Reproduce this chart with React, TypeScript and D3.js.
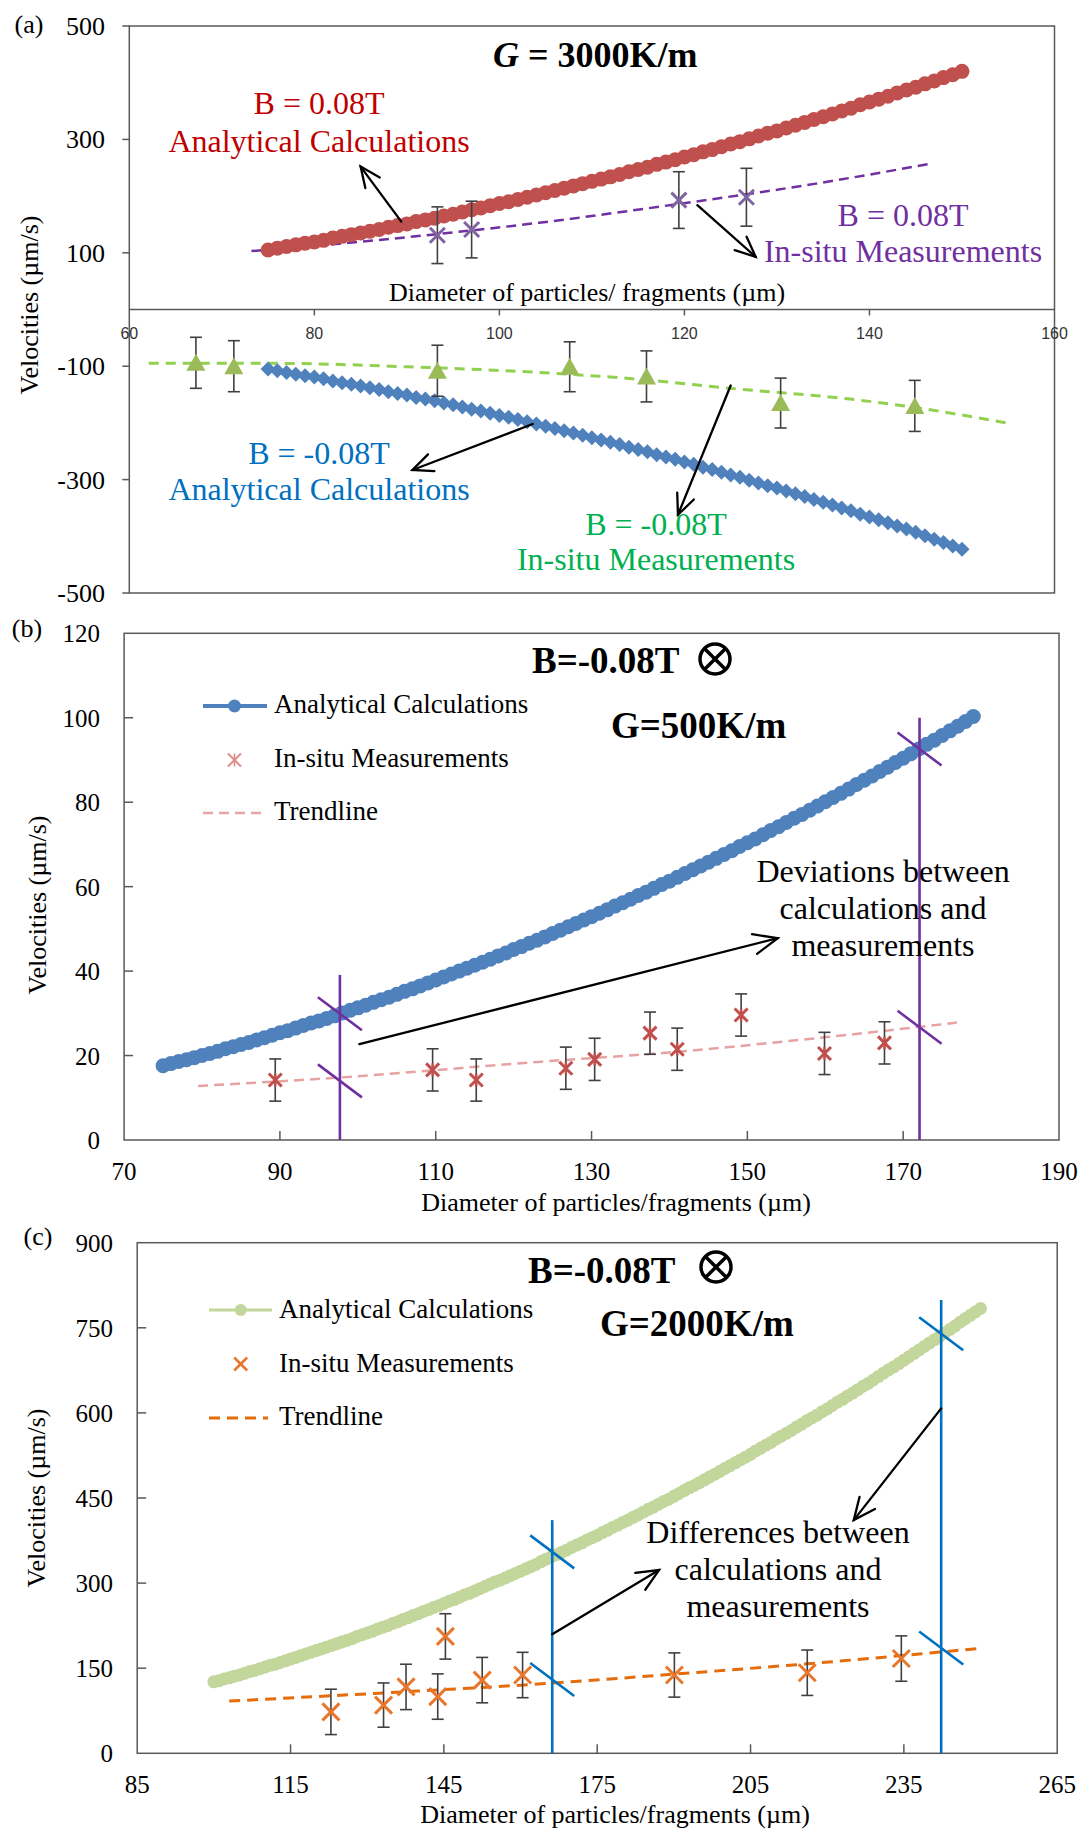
import React from 'react';
import * as d3 from 'd3';

const SERIF = '"Liberation Serif", "Times New Roman", Times, serif';
const SANS = '"Liberation Sans", Arial, sans-serif';

// ---------------- Panel (a) data ----------------
const aTicksY = [500, 300, 100, -100, -300, -500];
const aTicksX = [60, 80, 100, 120, 140, 160];
const aCalcDiam = d3.range(75, 151);
const aCalcPos = [
  105, 108, 111, 114, 117, 119, 122, 126, 129, 132,
  135, 138, 141, 145, 148, 151, 155, 158, 161, 165,
  168, 172, 176, 179, 183, 187, 190, 194, 198, 202,
  206, 210, 214, 218, 222, 226, 230, 234, 238, 243,
  247, 251, 256, 260, 264, 269, 273, 278, 282, 287,
  292, 296, 301, 306, 311, 315, 320, 325, 330, 335,
  340, 345, 350, 355, 361, 366, 371, 376, 382, 387,
  392, 398, 403, 409, 414, 420,
];
const aCalcNeg = [
  -105, -108, -111, -114, -117, -119, -122, -126, -129, -132,
  -135, -138, -141, -145, -148, -151, -155, -158, -161, -165,
  -168, -172, -176, -179, -183, -187, -190, -194, -198, -202,
  -206, -210, -214, -218, -222, -226, -230, -234, -238, -243,
  -247, -251, -256, -260, -264, -269, -273, -278, -282, -287,
  -292, -296, -301, -306, -311, -315, -320, -325, -330, -335,
  -340, -345, -350, -355, -361, -366, -371, -376, -382, -387,
  -393, -399, -405, -411, -417, -423,
];
const aMeasPosDiam = [93.3, 97.0, 119.4, 126.7];
const aMeasPosVel = [131, 141, 193, 198];
const aMeasPosErr = [50, 50, 50, 51];
const aTrendPosDiam = [73.2, 83.3, 93.3, 104.3, 119.3, 134.2, 146.9];
const aTrendPosVel = [103, 117, 133, 153, 186, 222, 258];
const aMeasNegDiam = [67.2, 71.3, 93.3, 107.6, 115.9, 130.4, 144.9];
const aMeasNegVel = [-94, -100, -108, -101, -118, -165, -170];
const aMeasNegErr = [45, 45, 45, 44, 45, 44, 45];
const aTrendNegDiam = [62.1, 75.8, 90, 104.2, 115, 124.9, 137.9, 145.4, 155.1];
const aTrendNegVel = [-95, -95, -101, -111, -123, -139, -158, -174, -201];

// ---------------- Panel (b) data ----------------
const bTicksY = [0, 20, 40, 60, 80, 100, 120];
const bTicksX = [70, 90, 110, 130, 150, 170, 190];
const bCalcDiam = d3.range(75, 180);
const bCalcVel = [
  17.6, 18.1, 18.6, 19.0, 19.5, 20.0, 20.5, 21.0, 21.6, 22.1,
  22.6, 23.1, 23.7, 24.2, 24.8, 25.4, 25.9, 26.5, 27.1, 27.7,
  28.2, 28.8, 29.4, 30.1, 30.7, 31.3, 31.9, 32.6, 33.2, 33.8,
  34.5, 35.2, 35.8, 36.5, 37.2, 37.9, 38.6, 39.3, 40.0, 40.7,
  41.4, 42.1, 42.8, 43.6, 44.3, 45.1, 45.8, 46.6, 47.3, 48.1,
  48.9, 49.7, 50.5, 51.3, 52.1, 52.9, 53.7, 54.5, 55.4, 56.2,
  57.0, 57.9, 58.7, 59.6, 60.5, 61.3, 62.2, 63.1, 64.0, 64.9,
  65.8, 66.7, 67.6, 68.5, 69.5, 70.4, 71.3, 72.3, 73.3, 74.2,
  75.2, 76.2, 77.1, 78.1, 79.1, 80.1, 81.1, 82.1, 83.1, 84.2,
  85.2, 86.2, 87.3, 88.3, 89.4, 90.4, 91.5, 92.6, 93.7, 94.7,
  95.8, 96.9, 98.0, 99.1, 100.3,
];
const bMeasDiam = [89.4, 109.6, 115.2, 126.7, 130.4, 137.5, 141.0, 149.2, 159.9, 167.6];
const bMeasVel = [14.2, 16.6, 14.2, 17.0, 19.1, 25.3, 21.5, 29.6, 20.5, 23.0];
const bMeasErr = [5, 5, 5, 5, 5, 5, 5, 5, 5, 5];
const bTrendDiam = [79.5, 97.7, 123.1, 141.1, 158.8, 176.9];
const bTrendVel = [12.8, 14.8, 18.5, 20.9, 24.1, 27.8];
const bDevDiam = [97.7, 172.1];
const bDevCalc = [29.9, 92.6];
const bDevMeas = [14.0, 26.7];
const bDevTop = [39.1, 100.0];

// ---------------- Panel (c) data ----------------
const cTicksY = [0, 150, 300, 450, 600, 750, 900];
const cTicksX = [85, 115, 145, 175, 205, 235, 265];
const cCalcDiam = d3.range(100, 251);
const cCalcVel = [
  126, 128, 131, 133, 136, 138, 141, 144, 146, 149,
  152, 155, 157, 160, 163, 166, 169, 172, 175, 178,
  181, 184, 187, 190, 193, 196, 199, 202, 206, 209,
  212, 215, 219, 222, 225, 229, 232, 236, 239, 243,
  246, 250, 253, 257, 260, 264, 268, 271, 275, 279,
  282, 286, 290, 294, 298, 302, 305, 309, 313, 317,
  321, 325, 329, 333, 338, 342, 346, 350, 354, 358,
  363, 367, 371, 376, 380, 384, 389, 393, 398, 402,
  407, 411, 416, 420, 425, 430, 434, 439, 444, 448,
  453, 458, 463, 468, 472, 477, 482, 487, 492, 497,
  502, 507, 512, 517, 522, 527, 533, 538, 543, 548,
  554, 559, 564, 569, 575, 580, 586, 591, 596, 602,
  607, 613, 619, 624, 630, 635, 641, 647, 652, 658,
  664, 670, 676, 681, 687, 693, 699, 705, 711, 717,
  723, 729, 735, 741, 747, 753, 760, 766, 772, 778,
  784,
];
const cMeasDiam = [122.9, 133.2, 137.6, 143.8, 145.3, 152.5, 160.4, 190.1, 216.1, 234.5];
const cMeasVel = [73, 85, 117, 100, 206, 129, 138, 138, 142, 167];
const cMeasErr = [40, 39, 40, 40, 40, 40, 40, 39, 40, 40];
const cTrendDiam = [103, 132.4, 163.4, 190.8, 217.8, 238, 249.8];
const cTrendVel = [92, 106, 122, 140, 159, 175, 185];
const cDevDiam = [166.2, 242.3];
const cDevCalc = [355, 739.5];
const cDevMeas = [130, 185.6];
const cDevTop = [411, 799];

// ---------------- scales ----------------
const xA = d3.scaleLinear().domain([60, 160]).range([129.3, 1054.5]);
const yA = d3.scaleLinear().domain([-500, 500]).range([593, 26]);
const xB = d3.scaleLinear().domain([70, 190]).range([124.1, 1059]);
const yB = d3.scaleLinear().domain([0, 120]).range([1140, 633.3]);
const xC = d3.scaleLinear().domain([85, 265]).range([137.2, 1057.2]);
const yC = d3.scaleLinear().domain([0, 900]).range([1753.3, 1242.7]);

const AXIS = '#595959';

function Arrow({ x1, y1, x2, y2, len = 22, ang = 0.42, color = '#000', w = 2.3 }: any) {
  const a = Math.atan2(y2 - y1, x2 - x1);
  const p1 = [x2 - len * Math.cos(a - ang), y2 - len * Math.sin(a - ang)];
  const p2 = [x2 - len * Math.cos(a + ang), y2 - len * Math.sin(a + ang)];
  return (
    <g stroke={color} strokeWidth={w} fill="none" strokeLinecap="round">
      <line x1={x1} y1={y1} x2={x2} y2={y2} />
      <polyline points={`${p1[0]},${p1[1]} ${x2},${y2} ${p2[0]},${p2[1]}`} />
    </g>
  );
}

function ErrBar({ x, y0, y1 }: any) {
  return (
    <g stroke="#404040" strokeWidth={1.6}>
      <line x1={x} x2={x} y1={y0} y2={y1} />
      <line x1={x - 6} x2={x + 6} y1={y0} y2={y0} />
      <line x1={x - 6} x2={x + 6} y1={y1} y2={y1} />
    </g>
  );
}

function XMark({ x, y, s = 7.5, color, w = 3, star = false }: any) {
  return (
    <g stroke={color} strokeWidth={w}>
      <line x1={x - s} y1={y - s} x2={x + s} y2={y + s} />
      <line x1={x - s} y1={y + s} x2={x + s} y2={y - s} />
      {star && <line x1={x} y1={y - s} x2={x} y2={y + s} strokeWidth={w * 0.8} />}
    </g>
  );
}

function OTimes({ cx, cy, r = 15 }: any) {
  const k = r * Math.SQRT1_2;
  return (
    <g stroke="#000" strokeWidth={3.5} fill="none">
      <circle cx={cx} cy={cy} r={r} />
      <line x1={cx - k} y1={cy - k} x2={cx + k} y2={cy + k} />
      <line x1={cx - k} y1={cy + k} x2={cx + k} y2={cy - k} />
    </g>
  );
}

function Cross({ x, y, color }: any) {
  return <line x1={x - 22} y1={y - 16.5} x2={x + 22} y2={y + 16.5} stroke={color} strokeWidth={2.6} />;
}

function trendPath(xs: number[], ys: number[], sx: any, sy: any) {
  const pts = xs.map((d, i) => [sx(d), sy(ys[i])] as [number, number]);
  return d3.line().curve(d3.curveMonotoneX)(pts) || '';
}

function PanelA() {
  const [x0, x1] = xA.range();
  const [yb, yt] = yA.range();
  return (
    <g>
      <rect x={x0} y={yt} width={x1 - x0} height={yb - yt} fill="none" stroke={AXIS} strokeWidth={1.5} />
      <line x1={x0} x2={x1} y1={yA(0)} y2={yA(0)} stroke={AXIS} strokeWidth={1.5} />
      {aTicksY.map((t) => (
        <g key={t}>
          <line x1={x0 - 7} x2={x0} y1={yA(t)} y2={yA(t)} stroke={AXIS} strokeWidth={1.5} />
          <text x={105} y={yA(t) + 9} textAnchor="end" fontSize={26} fontFamily={SERIF} fill="#000">{t}</text>
        </g>
      ))}
      {aTicksX.map((t) => (
        <g key={t}>
          {t !== 60 && t !== 160 && (
            <line x1={xA(t)} x2={xA(t)} y1={yA(0)} y2={yA(0) + 6} stroke={AXIS} strokeWidth={1.5} />
          )}
          <text x={xA(t)} y={339} textAnchor="middle" fontSize={16} fontFamily={SANS} fill="#333">{t}</text>
        </g>
      ))}
      <text x={587} y={301} textAnchor="middle" fontSize={26} fontFamily={SERIF}>Diameter of particles/ fragments (µm)</text>
      <text transform="translate(38,305) rotate(-90)" textAnchor="middle" fontSize={26} fontFamily={SERIF}>Velocities (µm/s)</text>
      <text x={29} y={33} textAnchor="middle" fontSize={26} fontFamily={SERIF}>(a)</text>
      <text x={493} y={67} fontSize={36} fontFamily={SERIF} fontWeight="bold">
        <tspan fontStyle="italic">G</tspan> = 3000K/m
      </text>

      {/* trendlines */}
      <path d={trendPath(aTrendPosDiam, aTrendPosVel, xA, yA)} fill="none" stroke="#7030A0" strokeWidth={2.5} strokeDasharray="10 6" />
      <path d={trendPath(aTrendNegDiam, aTrendNegVel, xA, yA)} fill="none" stroke="#92D050" strokeWidth={3} strokeDasharray="10 7" />

      {/* analytical */}
      {aCalcDiam.map((d, i) => (
        <circle key={'r' + i} cx={xA(d)} cy={yA(aCalcPos[i])} r={7.5} fill="#C0504D" />
      ))}
      {aCalcDiam.map((d, i) => {
        const cx = xA(d), cy = yA(aCalcNeg[i]);
        return <path key={'b' + i} d={`M${cx},${cy - 7.5}L${cx + 7.5},${cy}L${cx},${cy + 7.5}L${cx - 7.5},${cy}Z`} fill="#4F81BD" />;
      })}

      {/* measurements */}
      {aMeasPosDiam.map((d, i) => (
        <g key={'pm' + i}>
          <ErrBar x={xA(d)} y0={yA(aMeasPosVel[i] + aMeasPosErr[i])} y1={yA(aMeasPosVel[i] - aMeasPosErr[i])} />
          <XMark x={xA(d)} y={yA(aMeasPosVel[i])} color="#8064A2" />
        </g>
      ))}
      {aMeasNegDiam.map((d, i) => {
        const cx = xA(d), cy = yA(aMeasNegVel[i]);
        return (
          <g key={'nm' + i}>
            <ErrBar x={cx} y0={yA(aMeasNegVel[i] + aMeasNegErr[i])} y1={yA(aMeasNegVel[i] - aMeasNegErr[i])} />
            <path d={`M${cx},${cy - 9}L${cx + 9.5},${cy + 8}L${cx - 9.5},${cy + 8}Z`} fill="#9BBB59" />
          </g>
        );
      })}

      {/* annotations */}
      <g fontFamily={SERIF} fontSize={32} textAnchor="middle">
        <text x={319} y={114} fill="#C00000">B = 0.08T</text>
        <text x={319} y={152} fill="#C00000">Analytical Calculations</text>
        <text x={903} y={226} fill="#7030A0">B = 0.08T</text>
        <text x={903} y={262} fill="#7030A0">In-situ Measurements</text>
        <text x={319} y={464} fill="#0070C0">B = -0.08T</text>
        <text x={319} y={500} fill="#0070C0">Analytical Calculations</text>
        <text x={656} y={535} fill="#00B050">B = -0.08T</text>
        <text x={656} y={570} fill="#00B050">In-situ Measurements</text>
      </g>
      <Arrow x1={xA(89.4)} y1={yA(155)} x2={xA(85.0)} y2={yA(252)} />
      <Arrow x1={xA(121.4)} y1={yA(184)} x2={xA(127.7)} y2={yA(93)} />
      <Arrow x1={xA(103.6)} y1={yA(-202)} x2={xA(90.6)} y2={yA(-283)} />
      <Arrow x1={xA(125.0)} y1={yA(-134)} x2={xA(119.3)} y2={yA(-362)} />
    </g>
  );
}

function PanelB() {
  const [x0, x1] = xB.range();
  const [yb, yt] = yB.range();
  return (
    <g>
      <rect x={x0} y={yt} width={x1 - x0} height={yb - yt} fill="none" stroke={AXIS} strokeWidth={1.5} />
      {bTicksY.map((t) => (
        <g key={t}>
          {t !== 0 && t !== 120 && <line x1={x0} x2={x0 + 9} y1={yB(t)} y2={yB(t)} stroke={AXIS} strokeWidth={1.5} />}
          <text x={100} y={yB(t) + 9} textAnchor="end" fontSize={25} fontFamily={SERIF}>{t}</text>
        </g>
      ))}
      {bTicksX.map((t) => (
        <g key={t}>
          {t !== 70 && t !== 190 && <line x1={xB(t)} x2={xB(t)} y1={yb} y2={yb - 9} stroke={AXIS} strokeWidth={1.5} />}
          <text x={xB(t)} y={1180} textAnchor="middle" fontSize={25} fontFamily={SERIF}>{t}</text>
        </g>
      ))}
      <text x={616} y={1211} textAnchor="middle" fontSize={26} fontFamily={SERIF}>Diameter of particles/fragments (µm)</text>
      <text transform="translate(46,905) rotate(-90)" textAnchor="middle" fontSize={26} fontFamily={SERIF}>Velocities (µm/s)</text>
      <text x={27} y={637} textAnchor="middle" fontSize={26} fontFamily={SERIF}>(b)</text>
      <text x={532} y={673} fontSize={37} fontFamily={SERIF} fontWeight="bold">B=-0.08T</text>
      <OTimes cx={715} cy={659} />
      <text x={611} y={738} fontSize={37} fontFamily={SERIF} fontWeight="bold">G=500K/m</text>

      {/* legend */}
      <line x1={203} x2={267} y1={706} y2={706} stroke="#4F81BD" strokeWidth={4} />
      <circle cx={234.5} cy={706} r={6.5} fill="#4F81BD" />
      <text x={274} y={713} fontSize={27} fontFamily={SERIF}>Analytical Calculations</text>
      <XMark x={234.5} y={760} s={6.5} color="#E08C8A" w={2} star />
      <text x={274} y={767} fontSize={27} fontFamily={SERIF}>In-situ Measurements</text>
      <line x1={203} x2={262} y1={813} y2={813} stroke="#E6A3A1" strokeWidth={2.5} strokeDasharray="10 6" />
      <text x={274} y={820} fontSize={27} fontFamily={SERIF}>Trendline</text>

      <path d={trendPath(bTrendDiam, bTrendVel, xB, yB)} fill="none" stroke="#E6A3A1" strokeWidth={2.5} strokeDasharray="10 6" />
      {bCalcDiam.map((d, i) => (
        <circle key={i} cx={xB(d)} cy={yB(bCalcVel[i])} r={7.5} fill="#4F81BD" />
      ))}
      {bMeasDiam.map((d, i) => (
        <g key={'m' + i}>
          <ErrBar x={xB(d)} y0={yB(bMeasVel[i] + bMeasErr[i])} y1={yB(bMeasVel[i] - bMeasErr[i])} />
          <XMark x={xB(d)} y={yB(bMeasVel[i])} s={6.5} color="#C0504D" w={3} star />
        </g>
      ))}

      {bDevDiam.map((d, i) => (
        <g key={'dv' + i}>
          <line x1={xB(d)} x2={xB(d)} y1={yB(bDevTop[i])} y2={yb} stroke="#7030A0" strokeWidth={2.6} />
          <Cross x={xB(d)} y={yB(bDevCalc[i])} color="#7030A0" />
          <Cross x={xB(d)} y={yB(bDevMeas[i])} color="#7030A0" />
        </g>
      ))}
      <Arrow x1={xB(100.2)} y1={yB(22.7)} x2={xB(153.9)} y2={yB(47.8)} len={26} ang={0.4} />
      <g fontFamily={SERIF} fontSize={32} textAnchor="middle">
        <text x={883} y={882}>Deviations between</text>
        <text x={883} y={919}>calculations and</text>
        <text x={883} y={956}>measurements</text>
      </g>
    </g>
  );
}

function PanelC() {
  const [x0, x1] = xC.range();
  const [yb, yt] = yC.range();
  return (
    <g>
      <rect x={x0} y={yt} width={x1 - x0} height={yb - yt} fill="none" stroke={AXIS} strokeWidth={1.5} />
      {cTicksY.map((t) => (
        <g key={t}>
          {t !== 0 && t !== 900 && <line x1={x0} x2={x0 + 9} y1={yC(t)} y2={yC(t)} stroke={AXIS} strokeWidth={1.5} />}
          <text x={113} y={yC(t) + 9} textAnchor="end" fontSize={25} fontFamily={SERIF}>{t}</text>
        </g>
      ))}
      {cTicksX.map((t) => (
        <g key={t}>
          {t !== 85 && t !== 265 && <line x1={xC(t)} x2={xC(t)} y1={yb} y2={yb - 9} stroke={AXIS} strokeWidth={1.5} />}
          <text x={xC(t)} y={1793} textAnchor="middle" fontSize={25} fontFamily={SERIF}>{t}</text>
        </g>
      ))}
      <text x={615} y={1823} textAnchor="middle" fontSize={26} fontFamily={SERIF}>Diameter of particles/fragments (µm)</text>
      <text transform="translate(45,1498) rotate(-90)" textAnchor="middle" fontSize={26} fontFamily={SERIF}>Velocities (µm/s)</text>
      <text x={38} y={1245} textAnchor="middle" fontSize={26} fontFamily={SERIF}>(c)</text>
      <text x={528} y={1283} fontSize={37} fontFamily={SERIF} fontWeight="bold">B=-0.08T</text>
      <OTimes cx={716} cy={1267} />
      <text x={600} y={1336} fontSize={37} fontFamily={SERIF} fontWeight="bold">G=2000K/m</text>

      {/* legend */}
      <line x1={209} x2={272} y1={1310} y2={1310} stroke="#C3D69B" strokeWidth={3} />
      <circle cx={240.7} cy={1310} r={6} fill="#C3D69B" />
      <text x={279} y={1318} fontSize={27} fontFamily={SERIF}>Analytical Calculations</text>
      <XMark x={240.7} y={1364} s={6.5} color="#E8772E" w={2.5} />
      <text x={279} y={1372} fontSize={27} fontFamily={SERIF}>In-situ Measurements</text>
      <line x1={209} x2={268} y1={1418} y2={1418} stroke="#E46C0A" strokeWidth={3} strokeDasharray="11 7" />
      <text x={279} y={1425} fontSize={27} fontFamily={SERIF}>Trendline</text>

      <path d={trendPath(cTrendDiam, cTrendVel, xC, yC)} fill="none" stroke="#E46C0A" strokeWidth={3} strokeDasharray="11 7" />
      {cCalcDiam.map((d, i) => (
        <circle key={i} cx={xC(d)} cy={yC(cCalcVel[i])} r={6.5} fill="#C3D69B" />
      ))}
      {cMeasDiam.map((d, i) => (
        <g key={'m' + i}>
          <ErrBar x={xC(d)} y0={yC(cMeasVel[i] + cMeasErr[i])} y1={yC(cMeasVel[i] - cMeasErr[i])} />
          <XMark x={xC(d)} y={yC(cMeasVel[i])} s={8.5} color="#E8772E" w={3} />
        </g>
      ))}

      {cDevDiam.map((d, i) => (
        <g key={'dv' + i}>
          <line x1={xC(d)} x2={xC(d)} y1={yC(cDevTop[i])} y2={yb} stroke="#0070C0" strokeWidth={2.6} />
          <Cross x={xC(d)} y={yC(cDevCalc[i])} color="#0070C0" />
          <Cross x={xC(d)} y={yC(cDevMeas[i])} color="#0070C0" />
        </g>
      ))}
      <Arrow x1={xC(166.2)} y1={yC(210)} x2={xC(187.1)} y2={yC(323)} len={24} ang={0.42} />
      <Arrow x1={xC(242.3)} y1={yC(608)} x2={xC(225.2)} y2={yC(411)} len={24} ang={0.42} />
      <g fontFamily={SERIF} fontSize={32} textAnchor="middle">
        <text x={778} y={1543}>Differences between</text>
        <text x={778} y={1580}>calculations and</text>
        <text x={778} y={1617}>measurements</text>
      </g>
    </g>
  );
}

export default function App() {
  return (
    <div style={{ position: 'absolute', left: 0, top: 0, width: 1081, height: 1830, background: '#fff' }}>
      <svg width={1081} height={1830} viewBox="0 0 1081 1830" style={{ display: 'block' }}>
        <rect x={0} y={0} width={1081} height={1830} fill="#fff" />
        <PanelA />
        <PanelB />
        <PanelC />
      </svg>
    </div>
  );
}
